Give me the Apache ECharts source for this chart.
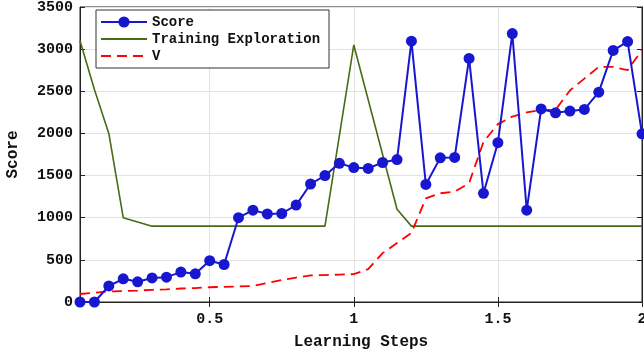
<!DOCTYPE html>
<html><head><meta charset="utf-8">
<script src="https://cdn.jsdelivr.net/npm/echarts@6/dist/echarts.min.js"></script>
<style>html,body{margin:0;padding:0;background:#fff}#c{width:644px;height:353px}</style>
</head><body><div id="c"></div>
<script>
const steps = [0.05,0.1,0.15,0.2,0.25,0.3,0.35,0.4,0.45,0.5,0.55,0.6,0.65,0.7,0.75,0.8,0.85,0.9,0.95,1.0,
  1.05,1.1,1.15,1.2,1.25,1.3,1.35,1.4,1.45,1.5,1.55,1.6,1.65,1.7,1.75,1.8,1.85,1.9,1.95,2.0];
const score = [0,0,190,275,240,285,295,355,335,490,445,1000,1090,1045,1050,1150,1400,1500,1645,1595,
  1585,1655,1690,3095,1395,1710,1715,2890,1290,1890,3185,1090,2290,2245,2265,2285,2490,2985,3090,1995];
const training = [3100,2520,2000,1000,950,900,900,900,900,900,900,900,900,900,900,900,900,900,1975,3050,
  2400,1750,1100,900,900,900,900,900,900,900,900,900,900,900,900,900,900,900,900,900];
const vValues = [95,110,125,130,135,145,150,160,165,175,180,185,190,225,260,290,315,320,325,330,
  390,580,700,820,1230,1290,1310,1410,1900,2110,2200,2250,2280,2280,2510,2650,2790,2790,2750,2990];
const xTicks = [0.5,1,1.5,2];
const yMin = 0, yMax = 3500, yStep = 500;
const seriesNames = ['Score','Training Exploration','V'];

const font = 'Liberation Mono';
const pair = arr => steps.map((s,i)=>[s,arr[i]]);
const noSym = {color:'rgba(0,0,0,0)',borderWidth:0};
const chart = echarts.init(document.getElementById('c'));
chart.setOption({
  animation:false,
  grid:{left:80,right:2,top:7,bottom:51,show:true,borderColor:'#222',borderWidth:1,
    containLabel:false,outerBoundsMode:'none'},
  legend:{
    orient:'vertical',left:96,top:10,
    data:[{name:seriesNames[0]},{name:seriesNames[1],itemStyle:noSym},{name:seriesNames[2],itemStyle:noSym}],
    backgroundColor:'#fff',borderColor:'#333',borderWidth:1,
    padding:[5,9,5,4],itemGap:3,itemWidth:46,itemHeight:14,
    textStyle:{fontFamily:font,fontWeight:'bold',fontSize:14,color:'#111'}
  },
  xAxis:[{
    type:'value',min:0.05,max:2,
    name:'Learning Steps',nameLocation:'middle',nameGap:32,
    nameTextStyle:{fontFamily:font,fontWeight:'bold',fontSize:16,color:'#111'},
    axisLine:{show:true,lineStyle:{color:'#222'}},
    axisTick:{show:true,inside:true,length:5,customValues:xTicks,lineStyle:{color:'#222'}},
    axisLabel:{customValues:xTicks,fontFamily:font,fontWeight:'bold',fontSize:15,color:'#111',margin:10,
      formatter:v=>String(v)},
    splitLine:{show:true,lineStyle:{color:'#e2e2e2'}}
  },{
    type:'value',min:0.05,max:2,position:'top',
    axisLine:{show:true,lineStyle:{color:'#222'}},
    axisTick:{show:true,inside:true,length:5,customValues:xTicks,lineStyle:{color:'#222'}},
    axisLabel:{show:false},splitLine:{show:false}
  }],
  yAxis:[{
    type:'value',min:yMin,max:yMax,interval:yStep,
    name:'Score',nameLocation:'middle',nameGap:59,
    nameTextStyle:{fontFamily:font,fontWeight:'bold',fontSize:16,color:'#111'},
    axisLine:{show:true,lineStyle:{color:'#222'}},
    axisTick:{show:true,inside:true,length:5,lineStyle:{color:'#222'}},
    axisLabel:{fontFamily:font,fontWeight:'bold',fontSize:15,color:'#111',margin:7,formatter:v=>String(v)},
    splitLine:{show:true,lineStyle:{color:'#e2e2e2'}}
  },{
    type:'value',min:yMin,max:yMax,interval:yStep,position:'right',
    axisLine:{show:true,lineStyle:{color:'#222'}},
    axisTick:{show:true,inside:true,length:5,lineStyle:{color:'#222'}},
    axisLabel:{show:false},splitLine:{show:false}
  }],
  series:[
    {name:seriesNames[0],type:'line',data:pair(score),symbol:'circle',symbolSize:11,showSymbol:true,
      lineStyle:{color:'#1717d0',width:2},itemStyle:{color:'#1717d0'},z:5},
    {name:seriesNames[1],type:'line',data:pair(training),symbol:'none',
      lineStyle:{color:'#476b17',width:1.6},itemStyle:{color:'#476b17'},z:3},
    {name:seriesNames[2],type:'line',data:pair(vValues),symbol:'none',
      lineStyle:{color:'#ff0000',width:1.8,type:[10,6]},itemStyle:{color:'#ff0000'},z:4}
  ]
});
</script></body></html>
